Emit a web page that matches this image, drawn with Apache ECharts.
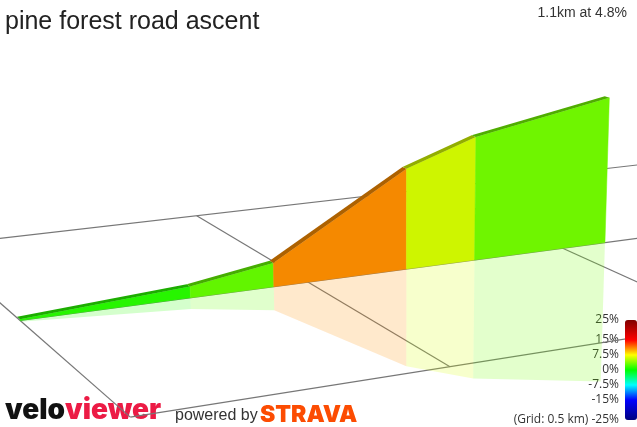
<!DOCTYPE html>
<html>
<head>
<meta charset="utf-8">
<script src="https://cdn.jsdelivr.net/npm/echarts@6/dist/echarts.min.js"></script>
<style>
html,body{margin:0;padding:0;background:#fff;}
#chart{width:637px;height:427px;}
</style>
</head>
<body>
<div id="chart"></div>
<script>
// ---------------- data ----------------
const routeDistanceKm   = [0, 0.288, 0.437, 0.686, 0.820, 1.089];
const routeElevationM   = [312.0, 315.4, 319.8, 346.7, 355.2, 364.3];
const segmentGradientPct = [1.2, 3.0, 10.8, 6.3, 3.4];
const gridXKm = [0, 0.5, 1.0, 1.5];
const gridZKm = [-0.5, 0, 0.5];
const colorbarTicks = [25, 15, 7.5, 0, -7.5, -15, -25];
const colorbarStopValues = [-25, -15, -7.5, 0, 7.5, 15, 25];
const colorbarStopColors = ['#00007f', '#0000ff', '#00ffff', '#00ff00', '#ffff00', '#ff0000', '#7f0000'];
const titleText = 'pine forest road ascent';
const summaryText = '1.1km at 4.8%';

// ---------------- camera / layout ----------------
const camGround = [[0, 0], [1, 0], [0.5, -0.5], [0.5, 0.5]];
const camScreen = [[20.1, 320.5], [562.7, 248.2], [196.7, 215.7], [450, 366.7]];
const vertPxPerM = 3.06;
const vertVP = [400, 7000];
const roadWidthKm = 0.015;
const baseOffsetM = 0.4;

function solveHomography(src, dst) {
  const A = [], B = [];
  for (let i = 0; i < 4; i++) {
    const X = src[i][0], Z = src[i][1], u = dst[i][0], v = dst[i][1];
    A.push([X, Z, 1, 0, 0, 0, -X * u, -Z * u]); B.push(u);
    A.push([0, 0, 0, X, Z, 1, -X * v, -Z * v]); B.push(v);
  }
  const n = 8;
  for (let col = 0; col < n; col++) {
    let piv = col;
    for (let r = col + 1; r < n; r++) if (Math.abs(A[r][col]) > Math.abs(A[piv][col])) piv = r;
    let t = A[col]; A[col] = A[piv]; A[piv] = t;
    t = B[col]; B[col] = B[piv]; B[piv] = t;
    for (let r = 0; r < n; r++) {
      if (r === col) continue;
      const f = A[r][col] / A[col][col];
      for (let c = col; c < n; c++) A[r][c] -= f * A[col][c];
      B[r] -= f * B[col];
    }
  }
  return A.map((row, i) => B[i] / row[i]);
}
const H = solveHomography(camGround, camScreen);
const cY = -vertPxPerM / (vertVP[1] - 280);
const aY = vertVP[0] * cY, bY = vertVP[1] * cY;
function project(X, Ym, Z) {
  const w = H[6] * X + H[7] * Z + 1 + cY * Ym;
  return [(H[0] * X + H[1] * Z + H[2] + aY * Ym) / w,
          (H[3] * X + H[4] * Z + H[5] + bY * Ym) / w];
}

const baseElev = Math.min.apply(null, routeElevationM) - baseOffsetM;

function shade(color, f) {
  const c = echarts.color.parse(color);
  return 'rgb(' + Math.round(c[0] * f) + ',' + Math.round(c[1] * f) + ',' + Math.round(c[2] * f) + ')';
}
function withAlpha(color, a) {
  const c = echarts.color.parse(color);
  return 'rgba(' + c[0] + ',' + c[1] + ',' + c[2] + ',' + a + ')';
}

function stopColorAt(v) {
  for (let i = 0; i < colorbarStopValues.length - 1; i++) {
    const v0 = colorbarStopValues[i], v1 = colorbarStopValues[i + 1];
    if (v >= v0 && v <= v1) {
      return echarts.color.lerp((v - v0) / (v1 - v0), [colorbarStopColors[i], colorbarStopColors[i + 1]]);
    }
  }
  return colorbarStopColors[colorbarStopColors.length - 1];
}
const vmColors = [];
for (let v = -25; v <= 25.0001; v += 1.25) vmColors.push(stopColorAt(v));

// ---------------- series ----------------
const gridLineData = gridXKm.map(x => [0, x]).concat(gridZKm.map(z => [1, z]));
const segmentData = segmentGradientPct.map((g, i) => [i, g]);

function renderGrid(params, api) {
  const kind = api.value(0), val = api.value(1);
  let p0, p1;
  if (kind === 0) {
    p0 = project(val, 0, gridZKm[0]);
    p1 = project(val, 0, gridZKm[gridZKm.length - 1]);
  } else {
    p0 = project(gridXKm[0], 0, val);
    p1 = project(gridXKm[gridXKm.length - 1], 0, val);
  }
  return {
    type: 'line',
    shape: { x1: p0[0], y1: p0[1], x2: p1[0], y2: p1[1] },
    style: { stroke: '#777', lineWidth: 1.2 }
  };
}

function renderReflection(params, api) {
  const i = api.value(0);
  const color = api.visual('color');
  const x0 = routeDistanceKm[i], x1 = routeDistanceKm[i + 1];
  const h0 = routeElevationM[i] - baseElev, h1 = routeElevationM[i + 1] - baseElev;
  const pts = [project(x0, 0, 0), project(x1, 0, 0), project(x1, -h1, 0), project(x0, -h0, 0)];
  return { type: 'polygon', shape: { points: pts }, style: { fill: withAlpha(color, 0.2) } };
}

function renderProfile(params, api) {
  const i = api.value(0);
  const color = api.visual('color');
  const x0 = routeDistanceKm[i], x1 = routeDistanceKm[i + 1];
  const h0 = routeElevationM[i] - baseElev, h1 = routeElevationM[i + 1] - baseElev;
  const children = [];
  if (i === 0) {
    children.push({
      type: 'polygon',
      shape: { points: [project(x0, 0, 0), project(x0, h0, 0), project(x0, h0, -roadWidthKm), project(x0, 0, -roadWidthKm)] },
      style: { fill: '#8a8a8a' }
    });
  }
  children.push({
    type: 'polygon',
    shape: { points: [project(x0, 0, 0), project(x1, 0, 0), project(x1, h1, 0), project(x0, h0, 0)] },
    style: { fill: shade(color, 0.96), stroke: shade(color, 0.96), lineWidth: 0.5 }
  });
  children.push({
    type: 'polygon',
    shape: { points: [project(x0, h0, 0), project(x1, h1, 0), project(x1, h1, -roadWidthKm), project(x0, h0, -roadWidthKm)] },
    style: { fill: shade(color, 0.68) }
  });
  return { type: 'group', children: children };
}

const chart = echarts.init(document.getElementById('chart'), null, { renderer: 'canvas' });
chart.setOption({
  animation: false,
  backgroundColor: '#fff',
  grid: { left: 622, right: 14, top: 320, height: 100, show: false },
  xAxis: { type: 'value', show: false },
  yAxis: {
    type: 'value', min: -25, max: 25, position: 'left',
    axisLine: { show: false }, axisTick: { show: false }, splitLine: { show: false },
    axisLabel: {
      customValues: colorbarTicks,
      margin: 3,
      fontSize: 12,
      color: '#333',
      fontFamily: 'Open Sans',
      formatter: v => (v === -25 ? '(Grid: 0.5 km) ' : '') + v + '%'
    }
  },
  visualMap: {
    type: 'continuous',
    min: -25, max: 25,
    dimension: 1,
    seriesIndex: [1, 2],
    orient: 'vertical',
    left: 625, top: 320,
    itemWidth: 12, itemHeight: 100,
    padding: 0,
    calculable: false,
    text: null,
    showLabel: false,
    inRange: { color: vmColors }
  },
  graphic: [
    { type: 'text', left: 5, top: 10, style: { text: titleText, font: '25px "Liberation Sans"', fill: '#222' } },
    { type: 'text', right: 10, top: 6, style: { text: summaryText, font: '14px "Liberation Sans"', fill: '#333' } },
    { type: 'text', left: 5, top: 397, style: {
        text: '{a|velo}{b|viewer}',
        rich: {
          a: { fontSize: 28, fontWeight: 900, fontFamily: 'Inter', fill: '#111' },
          b: { fontSize: 28, fontWeight: 900, fontFamily: 'Inter', fill: '#ec1b45' }
        }
    } },
    { type: 'text', left: 175, top: 408, style: { text: 'powered by', font: '16px "Liberation Sans"', fill: '#333' } },
    { type: 'text', left: 260, top: 404, style: { text: 'STRAVA', font: '900 23px Inter', fill: '#fc4c02' } }
  ],
  series: [
    { type: 'custom', coordinateSystem: 'none', silent: true, renderItem: renderGrid, data: gridLineData },
    { type: 'custom', coordinateSystem: 'none', silent: true, renderItem: renderReflection, data: segmentData },
    { type: 'custom', coordinateSystem: 'none', silent: true, renderItem: renderProfile, data: segmentData }
  ]
});
</script>
</body>
</html>
